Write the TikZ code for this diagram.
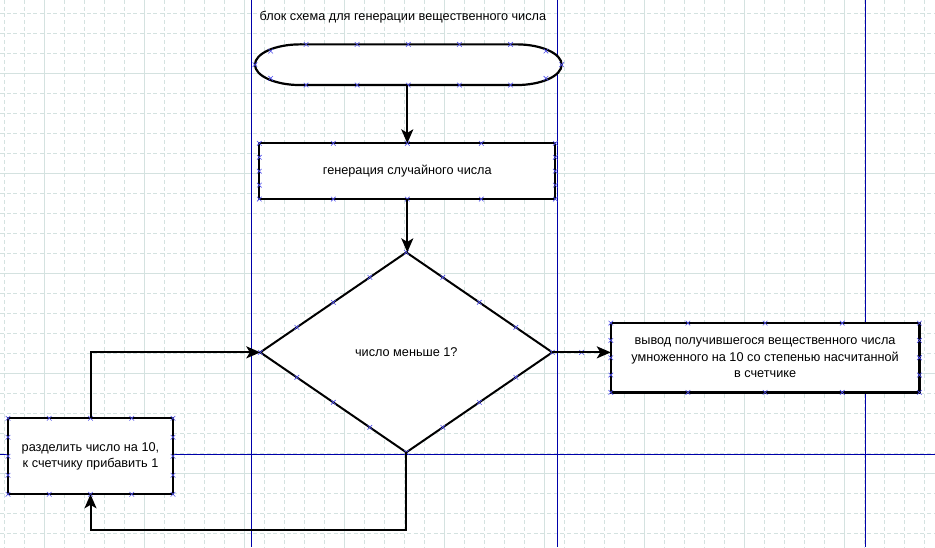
\documentclass[tikz,border=0pt]{standalone}
\usepackage{fontspec}
\setmainfont{Liberation Sans}
\usetikzlibrary{positioning, arrows.meta, shapes.geometric, shapes.misc, calc}
\definecolor{gridgray}{RGB}{212,226,224}
\definecolor{guideblue}{RGB}{0,0,170}
\definecolor{markblue}{RGB}{80,80,235}

\begin{document}
\begin{tikzpicture}[x=1pt, y=-1pt, >={Stealth[length=14pt, width=12pt, inset=3.5pt]},
    font=\fontsize{12.7}{16.7}\selectfont,
    block/.style={rectangle, draw, line width=2.2pt, fill=white, inner sep=0pt, outer sep=0pt, align=center},
    decision/.style={diamond, draw, line width=2pt, fill=white, inner sep=0pt, outer sep=0pt},
    terminal/.style={rectangle, inner sep=0pt, outer sep=0pt, minimum width=306.7pt, minimum height=40.7pt},
    flow/.style={->, line width=2pt},
    xmark/.style={cross out, draw=markblue, line width=0.6pt, minimum size=4pt, inner sep=0pt},
    guide/.style={guideblue, line width=1pt}]
  \useasboundingbox (0,0) rectangle (935,547);

  % background grid
  \foreach \gx in {4,24,...,924}
    \draw[gridgray, line width=0.8pt, dash pattern=on 4pt off 2.67pt] (\gx,0) -- (\gx,547);
  \foreach \gy in {13,33,...,533}
    \draw[gridgray, line width=0.8pt, dash pattern=on 4pt off 2.67pt] (0,\gy) -- (935,\gy);
  \foreach \gx in {44,144,...,844}
    \draw[gridgray, line width=1pt] (\gx,0) -- (\gx,547);
  \foreach \gy in {73,173,...,473}
    \draw[gridgray, line width=1pt] (0,\gy) -- (935,\gy);

  % guide lines
  \draw[guide] (251,0) -- (251,547);
  \draw[guide] (557.5,0) -- (557.5,547);
  \draw[guide] (865,0) -- (865,547);
  \draw[guide] (0,454.3) -- (935,454.3);

  \node[anchor=west] (title) at (256,17) {блок схема для генерации вещественного числа};

  % blocks
  \node[terminal] (start) at (408.3,64.7) {};
  \draw[line width=2.2pt, fill=white]
    ([xshift=45.3pt]start.north west) -- ([xshift=-45.3pt]start.north east)
    arc[start angle=90, end angle=-90, x radius=45.3pt, y radius=20.35pt]
    -- ([xshift=45.3pt]start.south west)
    arc[start angle=-90, end angle=-270, x radius=45.3pt, y radius=20.35pt] -- cycle;
  \node[block, minimum width=296pt, minimum height=55.7pt, below=58.3pt of start, xshift=-1pt] (gen)
    {генерация случайного числа};
  \node[decision, minimum width=292pt, minimum height=200pt, below=53.3pt of gen, xshift=-1pt] (cond)
    {число меньше 1?};
  \node[block, minimum width=308.6pt, minimum height=69.3pt, right=58.5pt of cond, yshift=-5.4pt] (out)
    {вывод получившегося вещественного числа\\умноженного на 10 со степенью насчитанной\\в счетчике};
  \node[block, minimum width=165pt, minimum height=76pt] (div) at (90.5,456.3)
    {разделить число на 10,\\ к счетчику прибавить 1};

  % connection points
  \foreach \n in {gen,out,div} {
    \foreach \t in {0,0.25,0.5,0.75,1} {
      \node[xmark] at ($(\n.north west)!\t!(\n.north east)$) {};
      \node[xmark] at ($(\n.south west)!\t!(\n.south east)$) {};
    }
    \foreach \t in {0.25,0.5,0.75} {
      \node[xmark] at ($(\n.north west)!\t!(\n.south west)$) {};
      \node[xmark] at ($(\n.north east)!\t!(\n.south east)$) {};
    }
  }
  \foreach \a/\b in {north/east,east/south,south/west,west/north}
    \foreach \t in {0,0.25,0.5,0.75}
      \node[xmark] at ($(cond.\a)!\t!(cond.\b)$) {};
  \foreach \t in {0.1667,0.3333,0.5,0.6667,0.8333} {
    \node[xmark] at ($(start.north west)!\t!(start.north east)$) {};
    \node[xmark] at ($(start.south west)!\t!(start.south east)$) {};
  }
  \node[xmark] at (start.west) {};
  \node[xmark] at (start.east) {};
  \node[xmark] at ([xshift=15.7pt, yshift=13.6pt]start.west) {};
  \node[xmark] at ([xshift=15.7pt, yshift=-13.6pt]start.west) {};
  \node[xmark] at ([xshift=-15.7pt, yshift=13.6pt]start.east) {};
  \node[xmark] at ([xshift=-15.7pt, yshift=-13.6pt]start.east) {};
  \node[xmark] at ($(cond.east)!0.5!(cond.east -| out.west)$) {};

  % connectors
  \draw[flow] (start.south -| gen.north) -- (gen.north);
  \draw[flow] (gen.south) -- (gen.south |- cond.north);
  \draw[flow] (cond.east) -- (cond.east -| out.west);
  \draw[flow] (cond.south) -- ++(0,77.5) -| (div.south);
  \draw[flow] (div.north) |- (cond.west);
\end{tikzpicture}
\end{document}
